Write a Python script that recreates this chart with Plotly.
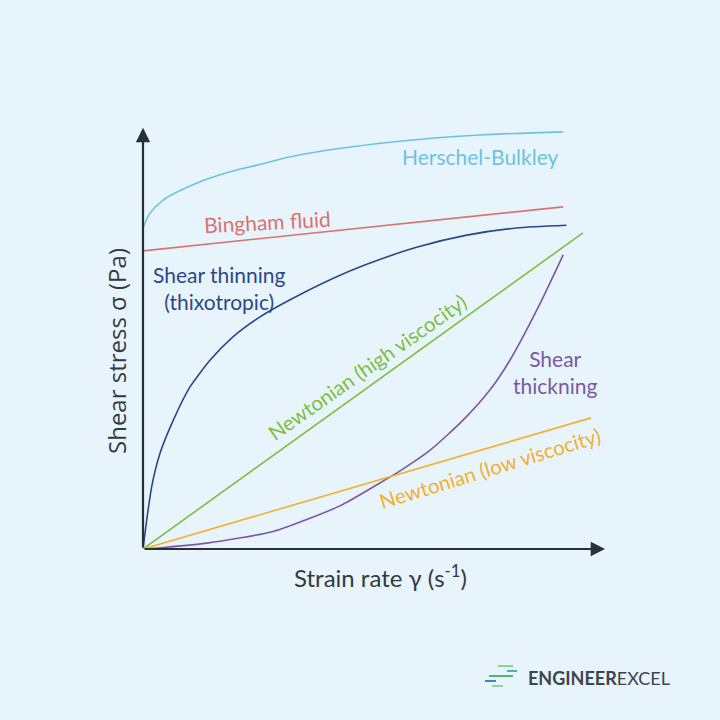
import plotly.graph_objects as go

# ---- data (arbitrary units) ----
hb_x = [0, 1.5, 4.3, 11.5, 18.5, 24.3, 33.4, 52.6, 71.7, 89.4]
hb_y = [71.5, 74.8, 77.7, 81.5, 84.0, 85.5, 87.8, 90.6, 92.2, 92.9]

bingham_x = [0, 89.4]
bingham_y = [66.4, 76.2]

thin_x = [0, 0.79, 1.85, 3.62, 6.45, 10.0, 14.3, 19.2, 24.9, 31.3, 40.5, 47.6, 58.2, 68.9, 79.5, 90.1]
thin_y = [0, 6.46, 13.9, 21.3, 28.7, 36.1, 42.1, 47.3, 51.7, 55.5, 60.3, 63.4, 67.2, 69.9, 71.5, 72.1]

thick_x = [0, 5.0, 13.6, 27.7, 41.9, 50.4, 54.7, 61.1, 68.1, 73.8, 78.1, 84.5, 89.4]
thick_y = [0, 0.4, 1.3, 3.9, 9.6, 14.7, 17.4, 22.0, 28.7, 35.4, 42.1, 54.7, 65.5]

newt_high_x = [0, 93.6]
newt_high_y = [0, 70.4]

newt_low_x = [0, 95.3]
newt_low_y = [0, 29.2]

FONT = "Lato"
BG = "#E8F4FC"

fig = go.Figure()

def add(x, y, color, shape="spline", sm=0.6):
    fig.add_trace(go.Scatter(x=x, y=y, mode="lines",
                             line=dict(color=color, width=1.6, shape=shape, smoothing=sm),
                             hoverinfo="skip", showlegend=False))

add(hb_x, hb_y, "#6CC3DD", sm=0.8)
add(bingham_x, bingham_y, "#D9736F", "linear")
add(thin_x, thin_y, "#2D4786", sm=0.6)
add(newt_high_x, newt_high_y, "#7CBF3F", "linear")
add(thick_x, thick_y, "#7A58A4", sm=0.6)
add(newt_low_x, newt_low_y, "#F2B02E", "linear")

anns = []
# axes arrows
anns.append(dict(x=0, y=93.8, ax=0, ay=0, xref="x", yref="y", axref="x", ayref="y",
                 showarrow=True, arrowhead=2, arrowsize=1.3, arrowwidth=2.2,
                 arrowcolor="#27313A", text=""))
anns.append(dict(x=98.3, y=0, ax=0, ay=0, xref="x", yref="y", axref="x", ayref="y",
                 showarrow=True, arrowhead=2, arrowsize=1.3, arrowwidth=2.2,
                 arrowcolor="#27313A", text=""))

def lab(text, px, py, color, angle=0, size=21, family=FONT, xanchor="center"):
    anns.append(dict(text=text, x=px, y=py, xref="paper", yref="paper", showarrow=False,
                     xanchor=xanchor, yanchor="middle", align="center",
                     textangle=angle, font=dict(family=family, size=size, color=color)))

lab("Herschel-Bulkley", 480, 156, "#6CC3DD")
lab("Bingham fluid", 267, 222, "#D9736F", angle=-3)
lab("Shear thinning<br>(thixotropic)", 219, 288, "#2D4786")
lab("Newtonian (high viscocity)", 367, 367, "#7CBF3F", angle=-35, size=20.5)
lab("Shear<br>thickning", 555, 372, "#7A58A4")
lab("Newtonian (low viscocity)", 490, 468, "#F2B02E", angle=-17, size=20.5)

# axis titles
lab("Shear stress σ (Pa)", 116, 351, "#333A40", angle=-90, size=24, family="Open Sans")
lab("Strain rate γ (s<sup>-1</sup>)", 380, 576, "#333A40", size=24)
# logo text
lab("<b>ENGINEER</b>EXCEL", 526, 678, "#3E454C", size=18, xanchor="left")

# convert pixel-placed paper annotations to paper fractions
for a in anns:
    if a.get("xref") == "paper":
        a["x"] = (a["x"] - 143) / 470
        a["y"] = (549 - a["y"]) / 449

fig.update_layout(annotations=anns)

# logo icon lines (decoration)
logo = [(498, 513, 666, "#8FD19A"), (507, 517, 671, "#4FA8C9"), (489, 513, 676, "#5BB36A"),
        (485, 496, 681, "#3F86C2"), (492, 503, 686, "#8FD19A")]
for x0, x1, yy, c in logo:
    fig.add_shape(type="line", xref="paper", yref="paper",
                  x0=(x0 - 143) / 470, x1=(x1 - 143) / 470,
                  y0=(549 - yy) / 449, y1=(549 - yy) / 449,
                  line=dict(color=c, width=2))

fig.update_layout(
    width=720, height=720,
    margin=dict(l=143, r=107, t=100, b=171),
    paper_bgcolor=BG, plot_bgcolor=BG,
    xaxis=dict(range=[0, 100], visible=False, fixedrange=True),
    yaxis=dict(range=[0, 100], visible=False, fixedrange=True),
    showlegend=False,
)

fig.write_html("out.html", config={"displayModeBar": False},
               post_script="document.body.style.margin='0';document.body.style.background='#E8F4FC';")
